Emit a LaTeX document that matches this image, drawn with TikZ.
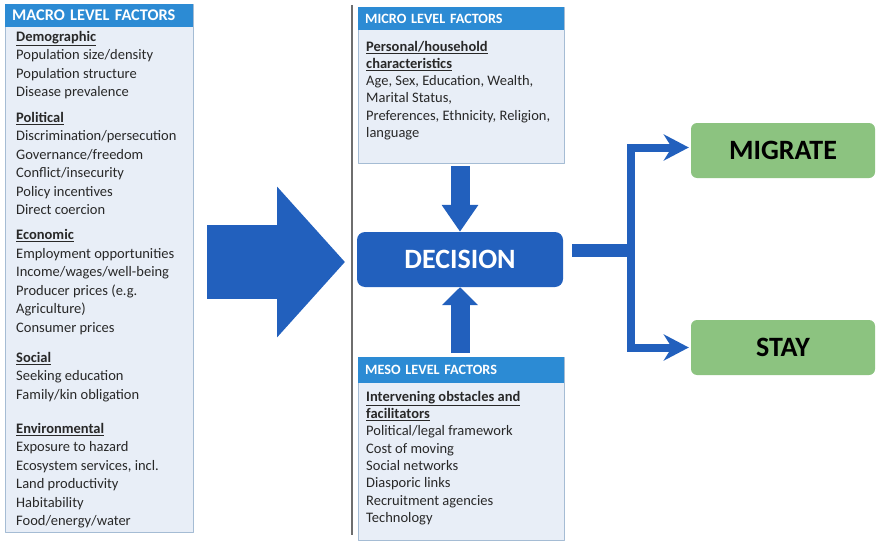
\documentclass[tikz,border=0pt]{standalone}
\usepackage{fontspec}
\setmainfont{Carlito}
\usetikzlibrary{arrows.meta,positioning}

\definecolor{headblue}{RGB}{44,139,212}
\definecolor{flowblue}{RGB}{34,96,189}
\definecolor{panelfill}{RGB}{232,238,247}
\definecolor{panelline}{RGB}{165,188,212}
\definecolor{outgreen}{RGB}{140,195,128}
\definecolor{bodyink}{RGB}{40,40,40}
\definecolor{divgray}{RGB}{110,110,110}

\newcommand{\grp}[1]{\underline{\textbf{#1}}}

\begin{document}
\begin{tikzpicture}[x=1pt, y=-1pt, line join=round,
		panel/.style={draw=panelline, line width=0.8pt, fill=panelfill, anchor=north west, inner sep=0pt},
		panelhead/.style={fill=headblue, text=white, anchor=north west, inner ysep=0pt, inner xsep=7pt,
			font=\fontsize{14.2}{16}\selectfont\bfseries, minimum height=23pt, align=left},
		factors/.style={anchor=north west, inner sep=0pt, align=left, text=bodyink},
		decisionbox/.style={fill=flowblue, text=white, rounded corners=8pt, minimum width=206pt,
			minimum height=55pt, font=\fontsize{28}{32}\selectfont\bfseries},
		outcome/.style={fill=outgreen, text=black, rounded corners=6pt, minimum width=184pt,
			minimum height=55pt, font=\fontsize{28}{32}\selectfont\bfseries},
		pushdown/.style={flowblue, line width=19pt, -{Triangle[length=27pt, width=35pt]}},
		pushup/.style={flowblue, line width=19pt, -{Triangle[length=18pt, width=35pt]}},
		branch/.style={flowblue, line width=8pt, line join=miter, shorten >=2pt,
			-{Stealth[length=25pt, width=26pt, inset=8pt]}}]

	\useasboundingbox (0,0) rectangle (876,543);

	% ================= macro level column =================
	\node[panel, minimum width=188pt, minimum height=528pt] (macro) at (5,4) {};
	\node[panelhead, text width=174pt, font=\fontsize{16.3}{18}\selectfont\bfseries] (macrohead)
		at (macro.north west) {MACRO LEVEL FACTORS};
	\node[factors, font=\fontsize{14.5}{18.5}\selectfont] (macrotext) at (16,31) {%
		\grp{Demographic}\\
		Population size/density\\
		Population structure\\
		Disease prevalence\\[7pt]
		\grp{Political}\\
		Discrimination/persecution\\
		Governance/freedom\\
		Conflict/insecurity\\
		Policy incentives\\
		Direct coercion\\[6.5pt]
		\grp{Economic}\\
		Employment opportunities\\
		Income/wages/well-being\\
		Producer prices (e.g.\\
		Agriculture)\\
		Consumer prices\\[11.5pt]
		\grp{Social}\\
		Seeking education\\
		Family/kin obligation\\[15.5pt]
		\grp{Environmental}\\
		Exposure to hazard\\
		Ecosystem services, incl.\\
		Land productivity\\
		Habitability\\
		Food/energy/water};

	% big arrow into the decision column
	\coordinate (bigtail) at (207,262);
	\coordinate (bigtip) at (345,262);
	\draw[flowblue, line width=74pt, -{Triangle[length=68pt, width=147pt]}] (bigtail) -- (bigtip);

	\coordinate (divtop) at (352,5);
	\coordinate (divbot) at (352,535);
	\draw[divgray, line width=1.5pt] (divtop) -- (divbot);

	% ================= micro / decision / meso =================
	\node[panel, minimum width=206pt, minimum height=156pt] (micro) at (358,7) {};
	\node[panelhead, text width=192pt] (microhead) at (micro.north west) {MICRO LEVEL FACTORS};
	\node[factors, font=\fontsize{14.5}{17.2}\selectfont] (microtext) at (366,41) {%
		\grp{Personal/household}\\
		\grp{characteristics}\\
		Age, Sex, Education, Wealth,\\
		Marital Status,\\
		Preferences, Ethnicity, Religion,\\
		language};

	\node[decisionbox] (decision) at (460,259.5) {DECISION};

	\node[panel, minimum width=206pt, minimum height=183pt] (meso) at (358,357) {};
	\node[panelhead, text width=192pt, minimum height=26pt] (mesohead) at (meso.north west) {MESO LEVEL FACTORS};
	\node[factors, font=\fontsize{14.5}{17.3}\selectfont] (mesotext) at (366,391) {%
		\grp{Intervening obstacles and}\\
		\grp{facilitators}\\
		Political/legal framework\\
		Cost of moving\\
		Social networks\\
		Diasporic links\\
		Recruitment agencies\\
		Technology};

	\draw[pushdown] (micro.south -| decision.north) ++(0,2) -- (decision.north);
	\draw[pushup] (meso.north -| decision.south) ++(0,-4) -- (decision.south);

	% ================= outcomes =================
	\node[outcome] (migrate) at (783,150.5) {MIGRATE};
	\node[outcome] (stay) at (783,347.5) {STAY};

	\coordinate (fork) at ([xshift=68pt, yshift=9.5pt]decision.east);
	\draw[flowblue, line width=13pt] ([xshift=9pt, yshift=9.5pt]decision.east) -- ([xshift=4pt]fork);
	\draw[branch] (fork) |- ([yshift=3pt]migrate.west);
	\draw[branch] (fork) |- (stay.west);

\end{tikzpicture}
\end{document}
